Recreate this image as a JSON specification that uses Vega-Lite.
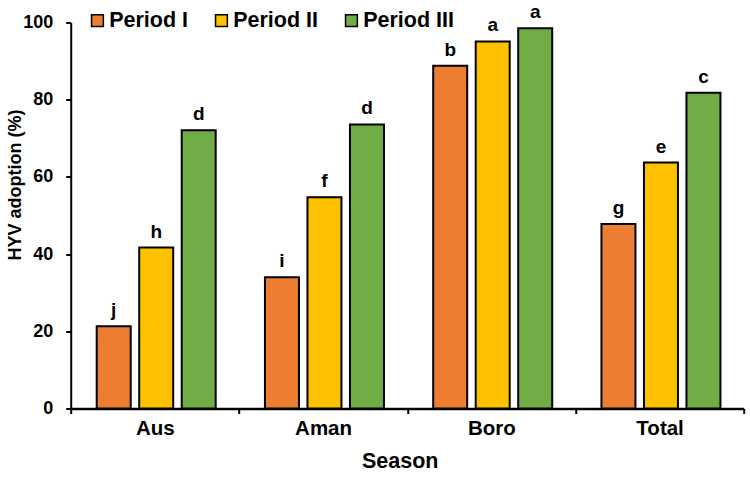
{
  "$schema": "https://vega.github.io/schema/vega-lite/v6.json",
  "width": 673,
  "height": 386,
  "autosize": "none",
  "padding": {"left": 70.7, "top": 22.5, "right": 6.3, "bottom": 72.5},
  "config": {"view": {"stroke": null}, "font": "Liberation Sans"},
  "data": {
    "values": [
      {"season": "Aus", "period": "Period I", "value": 21.3, "letter": "j"},
      {"season": "Aus", "period": "Period II", "value": 41.7, "letter": "h"},
      {"season": "Aus", "period": "Period III", "value": 72.1, "letter": "d"},
      {"season": "Aman", "period": "Period I", "value": 34.0, "letter": "i"},
      {"season": "Aman", "period": "Period II", "value": 54.7, "letter": "f"},
      {"season": "Aman", "period": "Period III", "value": 73.6, "letter": "d"},
      {"season": "Boro", "period": "Period I", "value": 88.8, "letter": "b"},
      {"season": "Boro", "period": "Period II", "value": 95.1, "letter": "a"},
      {"season": "Boro", "period": "Period III", "value": 98.5, "letter": "a"},
      {"season": "Total", "period": "Period I", "value": 47.8, "letter": "g"},
      {"season": "Total", "period": "Period II", "value": 63.7, "letter": "e"},
      {"season": "Total", "period": "Period III", "value": 81.8, "letter": "c"}
    ]
  },
  "encoding": {
    "x": {
      "field": "season",
      "type": "nominal",
      "sort": ["Aus", "Aman", "Boro", "Total"],
      "scale": {"paddingInner": 0, "paddingOuter": 0},
      "axis": {
        "title": "Season",
        "titleFontSize": 21.5,
        "titleFontWeight": "bold",
        "titleColor": "black",
        "titlePadding": 11,
        "titleX": 329,
        "labelFontSize": 20.5,
        "labelFontWeight": "bold",
        "labelColor": "black",
        "labelAngle": 0,
        "labelPadding": 5,
        "domainColor": "black",
        "domainWidth": 2.5,
        "tickColor": "black",
        "tickWidth": 2,
        "tickSize": 5,
        "tickBand": "extent"
      }
    },
    "xOffset": {
      "field": "period",
      "type": "nominal",
      "sort": ["Period I", "Period II", "Period III"],
      "scale": {"paddingInner": 0.2, "paddingOuter": 0, "range": [26, 145]}
    },
    "y": {
      "field": "value",
      "type": "quantitative",
      "scale": {"domain": [0, 100], "nice": false},
      "axis": {
        "values": [0, 20, 40, 60, 80, 100],
        "grid": false,
        "title": "HYV adoption (%)",
        "titleFontSize": 18,
        "titleFontWeight": "bold",
        "titleColor": "black",
        "titleX": -55,
        "titleY": 162,
        "titleBaseline": "middle",
        "labelFontSize": 18,
        "labelFontWeight": "bold",
        "labelColor": "black",
        "labelPadding": 13,
        "domainColor": "black",
        "domainWidth": 2,
        "tickColor": "black",
        "tickWidth": 2,
        "tickSize": 5
      }
    }
  },
  "layer": [
    {
      "mark": {"type": "bar", "stroke": "black", "strokeWidth": 2},
      "encoding": {
        "color": {
          "field": "period",
          "type": "nominal",
          "sort": ["Period I", "Period II", "Period III"],
          "scale": {"domain": ["Period I", "Period II", "Period III"], "range": ["#ED7D31", "#FFC000", "#70AD47"]},
          "legend": {
            "title": null,
            "orient": "none",
            "legendX": 16,
            "legendY": -13,
            "direction": "horizontal",
            "padding": 0,
            "symbolType": "square",
            "symbolSize": 140,
            "symbolStrokeColor": "black",
            "symbolStrokeWidth": 1.5,
            "symbolOpacity": 1,
            "labelFontSize": 21.5,
            "labelFontWeight": "bold",
            "labelColor": "black",
            "labelOffset": 1,
            "columnPadding": 22
          }
        }
      }
    },
    {
      "mark": {"type": "text", "dy": -10, "baseline": "alphabetic", "fontSize": 19, "fontWeight": "bold", "color": "black"},
      "encoding": {"text": {"field": "letter"}}
    }
  ]
}
